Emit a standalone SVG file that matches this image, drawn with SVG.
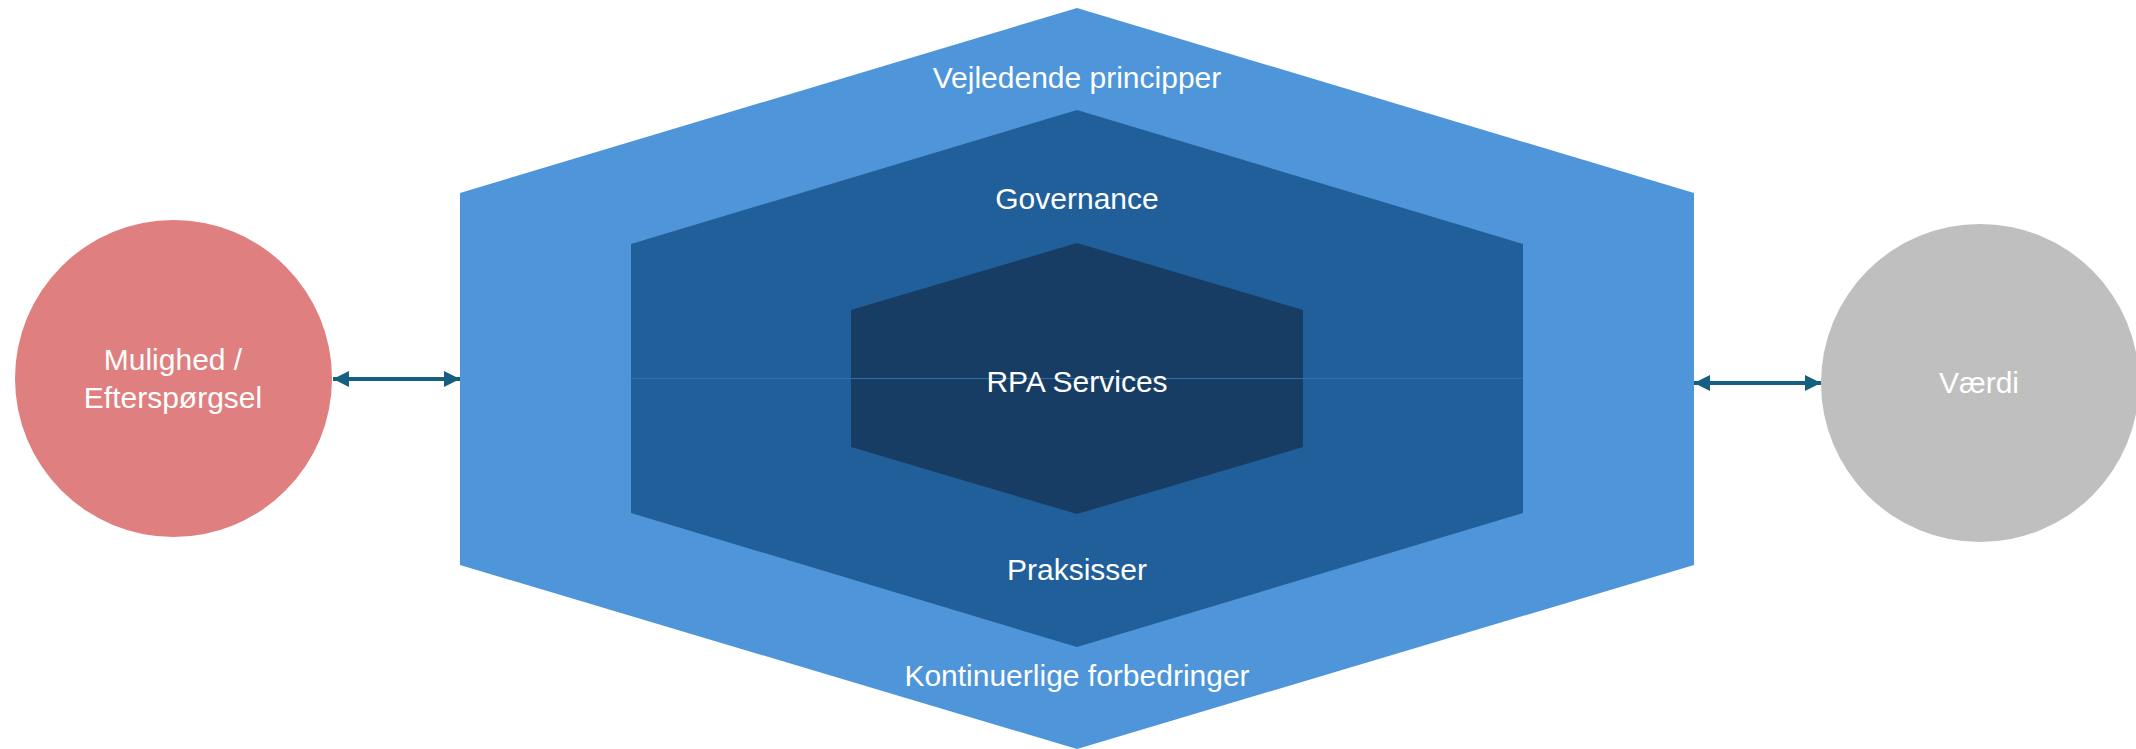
<svg xmlns="http://www.w3.org/2000/svg" width="2136" height="749" viewBox="0 0 2136 749">
<style>
.lbl{font-family:"Liberation Sans",Arial,sans-serif;font-size:30px;fill:#ffffff;text-anchor:middle}
.conn{stroke:#156082;stroke-width:4;fill:none;marker-start:url(#ah);marker-end:url(#ah)}
</style>
<defs>
<marker id="ah" markerUnits="userSpaceOnUse" markerWidth="16" markerHeight="16" refX="16" refY="8" orient="auto-start-reverse">
<path d="M0,0 L16,8 L0,16 Z" fill="#156082"/>
</marker>
</defs>
<rect width="2136" height="749" fill="#ffffff"/>
<g id="outer">
<polygon points="1077,8 1694,193 1694,565 1077,749 460,565 460,193" fill="#4E95D9"/>
</g>
<g id="middle">
<polygon points="1077,110 1523,244 1523,513 1077,647 631,513 631,244" fill="#215F9A"/>
</g>
<g id="inner">
<polygon points="1077,243 1303,310 1303,447 1077,514 851,447 851,310" fill="#183D64"/>
</g>
<line x1="631" y1="378.5" x2="1523" y2="378.5" stroke="#2F6EAD" stroke-width="1"/>
<g id="labels-hex">
<text class="lbl" x="1077" y="88">Vejledende principper</text>
<text class="lbl" x="1077" y="209">Governance</text>
<text class="lbl" x="1077" y="392">RPA Services</text>
<text class="lbl" x="1077" y="580">Praksisser</text>
<text class="lbl" x="1077" y="686">Kontinuerlige forbedringer</text>
</g>
<g id="mulighed">
<circle cx="173.5" cy="378.5" r="158.5" fill="#DF7F7F"/>
<text class="lbl" x="173" y="370">Mulighed /</text>
<text class="lbl" x="173" y="408">Efterspørgsel</text>
</g>
<g id="vaerdi">
<circle cx="1980" cy="383" r="159" fill="#BFBFBF"/>
<text class="lbl" x="1979" y="393">Værdi</text>
</g>
<g id="connectors">
<line class="conn" x1="333" y1="379" x2="460" y2="379"/>
<line class="conn" x1="1694" y1="383" x2="1821" y2="383"/>
</g>
</svg>
